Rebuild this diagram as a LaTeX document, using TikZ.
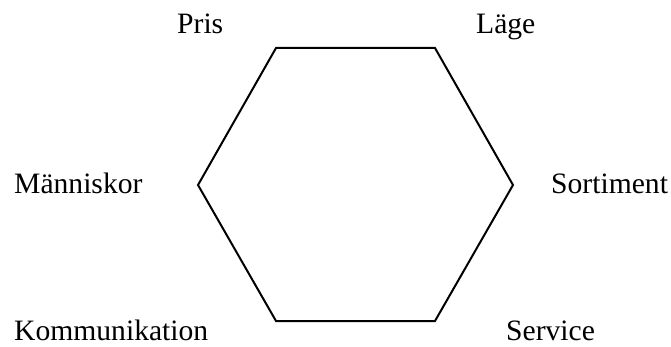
\documentclass[tikz,border=0pt]{standalone}
\usepackage{fontspec}
\setmainfont{Liberation Serif}
\usetikzlibrary{positioning}

\begin{document}
\begin{tikzpicture}[
  x=1pt, y=-1pt,
  factor/.style={inner sep=0pt, anchor=base west, font=\fontsize{29.6}{34}\selectfont},
  edge/.style={line width=2pt, line join=miter},
]
  \useasboundingbox (0,0) rectangle (671,347);
  % corners of the hexagon
  \coordinate (ntl) at (276,48);
  \coordinate (ntr) at (435,48);
  \coordinate (nr)  at (513,185);
  \coordinate (nbr) at (435,321);
  \coordinate (nbl) at (276,321);
  \coordinate (nl)  at (198,185);
  \draw[edge] (ntl) -- (ntr) -- (nr) -- (nbr) -- (nbl) -- (nl) -- cycle;
  % the six labels
  \node[factor] (pris) at (177,34) {Pris};
  \node[factor] (lage) at (476,34) {Läge};
  \node[factor] (manniskor) at (14,194) {Människor};
  \node[factor] (sortiment) at (551,194) {Sortiment};
  \node[factor] (kommunikation) at (14,340) {Kommunikation};
  \node[factor] (service) at (506,340) {Service};
\end{tikzpicture}
\end{document}
